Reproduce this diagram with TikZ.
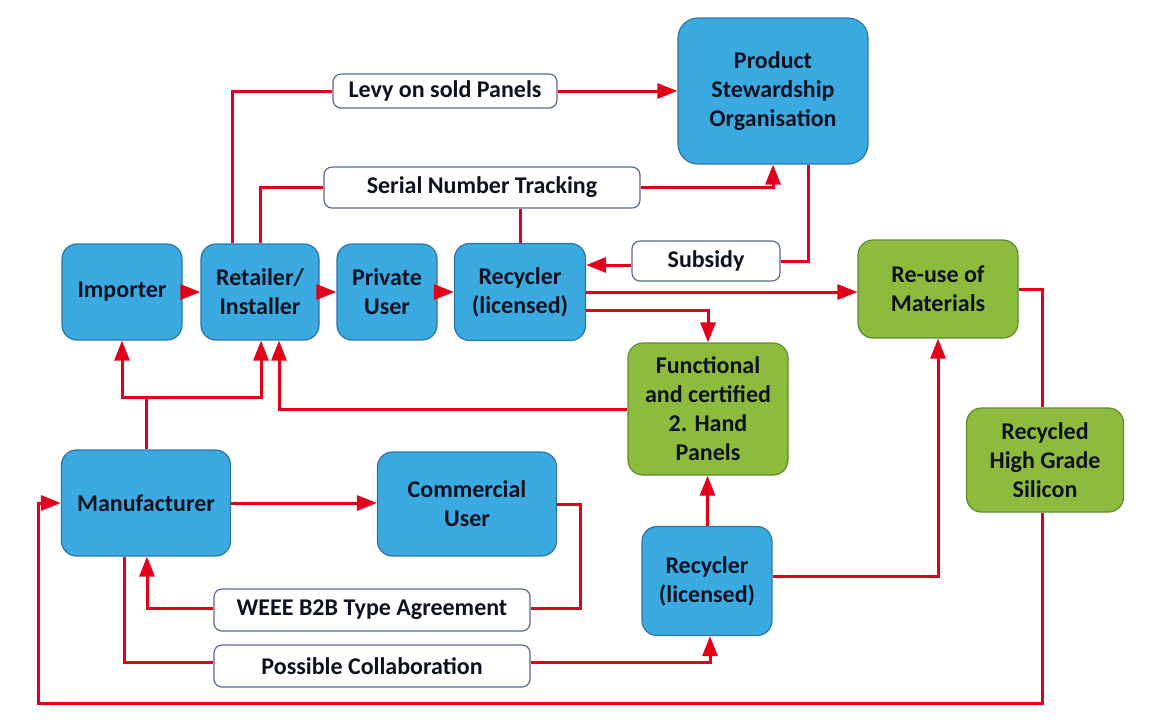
\documentclass[tikz,border=0pt]{standalone}
\usepackage{fontspec}
\setmainfont{Carlito}
\usepackage{tikz}
\usetikzlibrary{arrows.meta}

\definecolor{boxblue}{RGB}{59,170,225}
\definecolor{edgeblue}{RGB}{46,117,166}
\definecolor{boxgreen}{RGB}{141,187,61}
\definecolor{edgegreen}{RGB}{95,138,48}
\definecolor{edgegray}{RGB}{90,105,140}
\definecolor{flowred}{RGB}{226,0,26}
\definecolor{textc}{RGB}{14,18,32}

\begin{document}
\begin{tikzpicture}[x = 0.5pt, y = -0.5pt,
 box/.style = {draw, rounded corners = 7.5pt, line width = 0.6pt, align = center, inner sep = 0pt, text = textc, font = \fontsize{12}{14.5}\selectfont\bfseries},
 bluebox/.style = {box, fill = boxblue, draw = edgeblue},
 greenbox/.style = {box, fill = boxgreen, draw = edgegreen},
 labelbox/.style = {box, fill = white, draw = edgegray, rounded corners = 4pt},
 flow/.style = {draw = flowred, line width = 1.5pt},
 arr/.style = {flow, -{Triangle[length = 10pt, width = 7.5pt]}}]

\useasboundingbox (0, 0) rectangle (1154, 720);

\node[bluebox, minimum width = 60pt, minimum height = 48pt] (imp) at (122, 292) {Importer};
\node[bluebox, minimum width = 59pt, minimum height = 48pt] (ret) at (260, 292) {Retailer/\\Installer};
\node[bluebox, minimum width = 50pt, minimum height = 48pt] (priv) at (387, 292) {Private\\User};
\node[bluebox, minimum width = 65.5pt, minimum height = 48.5pt] (rec) at (520, 292) {Recycler\\(licensed)};
\node[bluebox, minimum width = 95pt, minimum height = 73pt, rounded corners = 10pt] (pso) at (773, 91) {Product\\Stewardship\\Organisation};
\node[greenbox, minimum width = 80pt, minimum height = 49pt] (reuse) at (938, 289) {Re-use of\\Materials};
\node[greenbox, minimum width = 80pt, minimum height = 66pt] (func) at (708, 409) {Functional\\and certified\\2. Hand\\Panels};
\node[bluebox, minimum width = 84.5pt, minimum height = 53pt] (man) at (146, 503) {Manufacturer};
\node[bluebox, minimum width = 89.5pt, minimum height = 52pt] (com) at (467, 504) {Commercial\\User};
\node[bluebox, minimum width = 65pt, minimum height = 54.5pt] (rec2) at (707, 581) {Recycler\\(licensed)};
\node[greenbox, minimum width = 78.5pt, minimum height = 52pt] (hgs) at (1045, 460) {Recycled\\High Grade\\Silicon};

\node[labelbox, minimum width = 112pt, minimum height = 17pt] (levy) at (445, 91) {Levy on sold Panels};
\node[labelbox, minimum width = 158pt, minimum height = 20.5pt] (ser) at (482, 187.5) {Serial Number Tracking};
\node[labelbox, minimum width = 74pt, minimum height = 20pt] (sub) at (706, 261) {Subsidy};
\node[labelbox, minimum width = 158pt, minimum height = 21pt] (weee) at (372, 610) {WEEE B2B Type Agreement};
\node[labelbox, minimum width = 158pt, minimum height = 21pt] (pc) at (372, 666) {Possible Collaboration};

\coordinate (split) at (146, 397);
\coordinate (loop) at (38, 703);

\draw[arr] (imp) -- (ret);
\draw[arr] (ret) -- (priv);
\draw[arr] (priv) -- (rec);

\draw[flow] ([xshift = -14pt]ret.north) |- (levy.west);
\draw[arr] (levy.east) -- (levy.east -| pso.west);

\draw[flow] (ret.north) |- (ser.west);
\draw[flow] (ser.south -| rec.north) -- (rec.north);
\draw[arr] (ser.east) -| (pso.south);

\draw[flow] ([xshift = 17.5pt]pso.south) |- (sub.east);
\draw[arr] ([yshift = -2pt]sub.west) -- ([yshift = -2pt]sub.west -| rec.east);

\draw[arr] (rec.east) -- (rec.east -| reuse.west);
\draw[arr] ([yshift = -9pt]rec.east) -| (func.north);
\draw[arr] (func.west) -| ([xshift = 9.5pt]ret.south);

\draw[flow] (man.north) -- (split);
\draw[arr] (split) -| (imp.south);
\draw[arr] (split) -| ([xshift = 0.5pt]ret.south);

\draw[arr] (man) -- (man -| com.west);
\draw[flow] (com.east) -- ++(23, 0) |- ([yshift = 1pt]weee.east);
\draw[arr] ([yshift = 1pt]weee.west) -| ([xshift = 0.5pt]man.south);

\draw[flow] ([xshift = -11pt]man.south) |- ([yshift = 2pt]pc.west);
\draw[arr] ([yshift = 2pt]pc.east) -| ([xshift = 1.5pt]rec2.south);

\draw[arr] (rec2) -- (func);
\draw[arr] ([yshift = 2.5pt]rec2.east) -| (reuse.south);
\draw[flow] (reuse.east) -| ([xshift = -1.5pt]hgs.north);
\draw[arr] ([xshift = -1.5pt]hgs.south) |- (loop) |- (man.west);

\end{tikzpicture}
\end{document}
